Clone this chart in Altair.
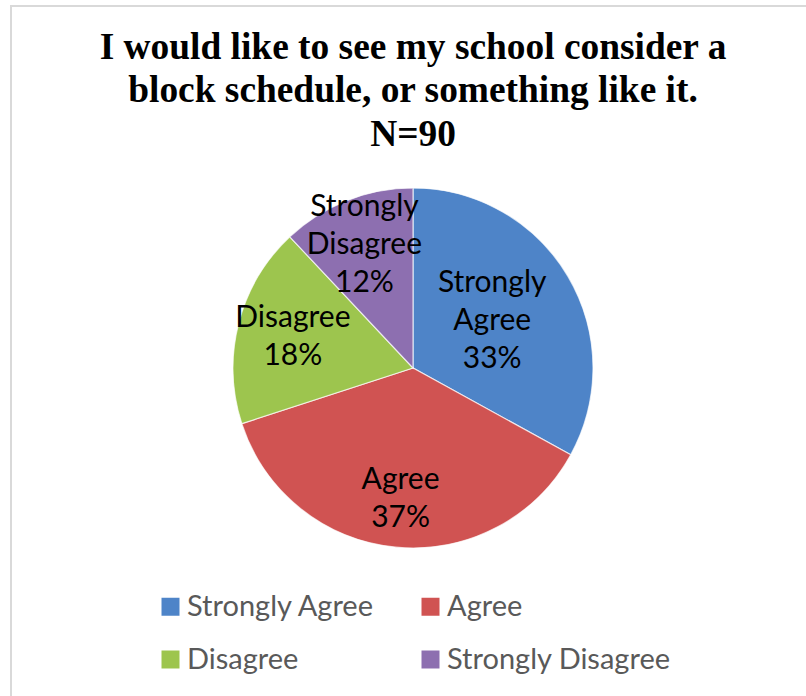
import altair as alt
import pandas as pd

# Data
categories = ["Strongly Agree", "Agree", "Disagree", "Strongly Disagree"]
percents = [33, 37, 18, 12]
slice_colors = ["#4E84C8", "#D05352", "#9DC54E", "#8D6FB0"]
title_lines = [
    "I would like to see my school consider a",
    "block schedule, or something like it.",
    "N=90",
]

df = pd.DataFrame({
    "category": categories,
    "pct": percents,
    "order": list(range(len(categories))),
})

color_scale = alt.Scale(domain=categories, range=slice_colors)
theta_scale = alt.Scale(domain=[0, 100])

pie = alt.Chart(df).mark_arc(
    outerRadius=180, stroke="white", strokeWidth=1.2, strokeOpacity=0.7
).encode(
    theta=alt.Theta("pct:Q", stack=True, scale=theta_scale),
    order=alt.Order("order:Q"),
    x=alt.value(413),
    color=alt.Color(
        "category:N",
        scale=color_scale,
        sort=categories,
        legend=alt.Legend(
            orient="none",
            direction="horizontal",
            legendX=156,
            legendY=422,
            columns=2,
            title=None,
            symbolType="square",
            symbolSize=324,
            symbolStrokeWidth=0,
            labelFont="Lato",
            labelFontSize=29,
            labelColor="#595959",
            labelOffset=2,
            labelLimit=400,
            columnPadding=41,
            rowPadding=23,
        ),
    ),
)

LINE_H = 38
labels = alt.Chart(df).transform_window(
    cum="sum(pct)", sort=[alt.SortField("order")], frame=[None, 0]
).transform_calculate(
    mid="datum.cum - datum.pct / 2",
    label="replace(datum.category, ' ', '\\n') + '\\n' + datum.pct + '%'",
    nl="length(split(datum.category, ' ')) + 1",
    lr="datum.category == 'Strongly Agree' ? 92 : (datum.category == 'Disagree' ? 124 : 132)",
).mark_text(
    font="Lato", fontSize=30, color="black", lineBreak="\n", lineHeight=LINE_H,
    align="center", baseline="middle",
    dy=alt.expr(f"-(datum.nl - 1) * {LINE_H / 2}"),
).encode(
    theta=alt.Theta("mid:Q", stack=None, scale=theta_scale),
    x=alt.value(413),
    radius=alt.Radius("lr:Q", scale=None),
    text="label:N",
)

frame_df = pd.DataFrame({"k": [0]})
top_line = alt.Chart(frame_df).mark_rule(color="#D9D9D9", strokeWidth=2).encode(
    x=alt.value(10), x2=alt.value(806), y=alt.value(-164)
)
left_line = alt.Chart(frame_df).mark_rule(color="#D9D9D9", strokeWidth=2).encode(
    x=alt.value(11), y=alt.value(-165), y2=alt.value(526)
)

chart = alt.layer(top_line, left_line, pie, labels).properties(
    width=806,
    height=396,
    background="white",
    padding={"left": 0, "right": 0, "top": 170, "bottom": 130},
    autosize=alt.AutoSizeParams(type="none"),
    title=alt.TitleParams(
        text=title_lines,
        font="Liberation Serif",
        fontSize=37.4,
        fontWeight="bold",
        lineHeight=43.5,
        color="black",
        anchor="middle",
        dx=10,
        dy=159,
        offset=10,
    ),
).configure_view(strokeWidth=0, stroke="transparent")

chart.save("out.html", embed_options={"renderer": "svg", "actions": False})
